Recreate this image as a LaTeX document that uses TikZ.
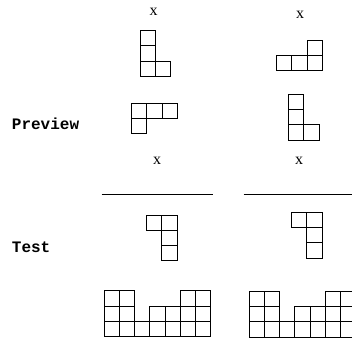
\documentclass[tikz,border=0pt]{standalone}
\usepackage{fontspec}
\setmainfont{Liberation Serif}
\setmonofont{Liberation Mono}
\usepackage{tikz}
\usetikzlibrary{positioning}

\begin{document}
\begin{tikzpicture}[
    x=0.5pt, y=-0.5pt,
    cell/.style={draw=black, line width=0.5pt},
    rule/.style={draw=black, line width=0.5pt},
    xtag/.style={font=\fontsize{8}{9}\selectfont, inner sep=0pt},
    rowtag/.style={font=\fontsize{8}{9}\selectfont\ttfamily\bfseries, anchor=west, inner sep=0pt}
]
\useasboundingbox (0,0) rectangle (352,339);
\clip (0,0) rectangle (352,339);

% Labels
\node[xtag] (xa) at (153.5,12) {x};
\node[xtag] (xb) at (300,15) {x};
\node[xtag] (xc) at (157,161) {x};
\node[xtag] (xd) at (299,161) {x};
\node[rowtag] (preview) at (11.5,123.5) {Preview};
\node[rowtag] (test) at (11.5,247) {Test};

% Pieces
\foreach \ox/\oy/\cells in {
    140/30.7/{0/0,0/1,0/2,1/2},
    276.7/40/{2/0,0/1,1/1,2/1},
    131.7/103.3/{0/0,1/0,2/0,0/1},
    288.7/94.3/{0/0,0/1,0/2,1/2},
    146.7/215/{0/0,1/0,1/1,1/2},
    291.7/212.3/{0/0,1/0,1/1,1/2}}
  \foreach \c/\r in \cells
    \draw[cell] (\ox+15.25*\c,\oy+15.25*\r) rectangle ++(15.25,15.25);

% Separators
\draw[rule] (101.7,194) -- (213.3,194);
\draw[rule] (243.7,194) -- (360,194);

% Boards
\foreach \ox/\oy in {104.3/290.7, 249.3/291}
  \foreach \c/\h in {0/3,1/3,2/1,3/2,4/2,5/3,6/3}
    \foreach \r in {1,...,\h}
      \draw[cell] (\ox+15.2*\c,\oy+15.33*3-15.33*\r) rectangle ++(15.2,15.33);
\end{tikzpicture}
\end{document}
